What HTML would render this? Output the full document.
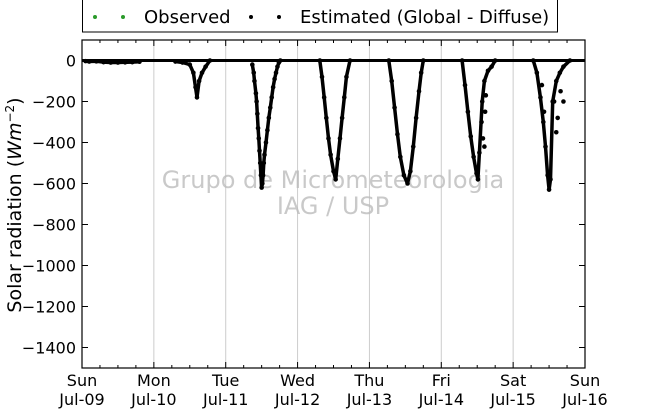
<!DOCTYPE html>
<html><head><meta charset="utf-8"><style>
body{margin:0;background:#fff;font-family:"Liberation Sans","DejaVu Sans",sans-serif}
svg text{font-family:"DejaVu Sans","Liberation Sans",sans-serif}
</style></head><body>
<svg id="c" width="650" height="409" viewBox="0 0 650 409">
<rect x="0" y="0" width="650" height="409" fill="#fff"/>
<g id="grid"></g>
<text x="333" y="188" font-size="24" fill="#bbb" fill-opacity="0.8" text-anchor="middle">Grupo de Micrometeorologia</text>
<text x="333" y="214" font-size="24" fill="#bbb" fill-opacity="0.8" text-anchor="middle">IAG / USP</text>
<g id="series"></g>
<rect x="82" y="40" width="503" height="328" fill="none" stroke="#000" stroke-width="1.2"/>
<g id="axes"></g>
<g>
<rect x="82.5" y="-5" width="475" height="37" fill="#fff" stroke="#000" stroke-width="1"/>
<circle cx="95" cy="17" r="2" fill="#2a9a2a"/>
<circle cx="123" cy="17" r="2" fill="#2a9a2a"/>
<text x="144" y="23" font-size="18">Observed</text>
<circle cx="251" cy="17" r="2" fill="#000"/>
<circle cx="279" cy="17" r="2" fill="#000"/>
<text x="300" y="23" font-size="18">Estimated (Global - Diffuse)</text>
</g>
<text transform="translate(21,205) rotate(-90)" font-size="19" text-anchor="middle">Solar radiation (<tspan font-style="italic">Wm</tspan><tspan font-size="12" dy="-7">−2</tspan><tspan dy="7">)</tspan></text>
</svg>
<script>
const dayLabels=["Sun","Mon","Tue","Wed","Thu","Fri","Sat","Sun"];
const dateLabels=["Jul-09","Jul-10","Jul-11","Jul-12","Jul-13","Jul-14","Jul-15","Jul-16"];
const yTicks=[0,-200,-400,-600,-800,-1000,-1200,-1400];
// estimated series: time in days since Sun Jul-09 00:00, value W/m2 (null separates segments)
const estTimes=[0.05,0.1,0.2,0.3,0.4,0.5,0.6,0.7,0.8,null,
1.30,1.40,1.50,1.55,1.58,1.60,1.63,1.67,1.72,1.78,null,
2.37,2.39,2.40,2.42,2.43,2.44,2.45,2.46,2.47,2.48,2.49,2.50,2.51,2.52,2.53,2.54,2.56,2.58,2.60,2.62,2.64,2.66,2.68,2.70,2.72,2.74,2.76,null,
3.31,3.34,3.37,3.40,3.43,3.46,3.50,3.53,3.56,3.59,3.62,3.65,3.68,3.73,null,
4.27,4.31,4.35,4.39,4.43,4.48,4.53,4.57,4.61,4.65,4.69,4.72,4.75,null,
5.29,5.33,5.37,5.41,5.45,5.49,5.51,5.53,5.57,5.60,5.65,5.70,5.75,null,
6.28,6.33,6.38,6.42,6.45,6.48,6.50,6.52,6.55,6.60,6.65,6.70,6.79];
const estValues=[-3,-5,-4,-8,-10,-10,-9,-8,-6,null,
-5,-10,-20,-60,-130,-180,-100,-60,-30,0,null,
-20,-60,-100,-160,-200,-260,-330,-380,-440,-500,-560,-620,-600,-560,-500,-460,-400,-340,-280,-230,-180,-130,-90,-60,-30,-10,0,null,
0,-80,-180,-280,-380,-460,-540,-580,-480,-380,-280,-180,-80,0,null,
0,-100,-230,-360,-470,-560,-600,-540,-420,-280,-150,-60,0,null,
0,-120,-250,-370,-470,-550,-580,-450,-200,-100,-50,-30,0,null,
0,-60,-180,-300,-420,-560,-630,-580,-200,-100,-60,-30,0];
const scatterTimes=[5.56,5.58,5.60,5.61,5.62,6.40,6.43,6.57,6.60,6.62,6.66,6.70];
const scatterValues=[-300,-380,-420,-250,-170,-120,-250,-200,-350,-280,-150,-200];

const NS="http://www.w3.org/2000/svg";
const X0=82,X1=585,Y0=40,Y1=368,VMAX=100,VMIN=-1500;
const x=t=>X0+t*(X1-X0)/7;
const y=v=>Y0+(VMAX-v)*(Y1-Y0)/(VMAX-VMIN);
function mk(tag,attrs,parent){const e=document.createElementNS(NS,tag);for(const k in attrs)e.setAttribute(k,attrs[k]);parent.appendChild(e);return e;}
const grid=document.getElementById('grid'),axes=document.getElementById('axes'),series=document.getElementById('series');
for(let i=0;i<dayLabels.length;i++){
  const gx=x(i);
  if(i>0&&i<7){const l=mk('line',{x1:gx,x2:gx,y1:Y0,y2:Y1,stroke:'#ccc','stroke-width':1},grid);
  
  }
  const t=mk('text',{x:gx,y:386,'font-size':16,'text-anchor':'middle'},axes);
  t.textContent=dayLabels[i];
  
  
  const t2=mk('text',{x:gx,y:405,'font-size':16,'text-anchor':'middle'},axes);
  t2.textContent=dateLabels[i];
  
  
}
for(let h=0;h<=28;h++){const gx=x(h/4);const len=h%4?3:6;
  mk('line',{x1:gx,x2:gx,y1:Y0,y2:Y0+len,stroke:'#000','stroke-width':1},axes);
  mk('line',{x1:gx,x2:gx,y1:Y1,y2:Y1-len,stroke:'#000','stroke-width':1},axes);}
yTicks.forEach(v=>{const gy=y(v);
  mk('line',{x1:X0,x2:X0+6,y1:gy,y2:gy,stroke:'#000'},axes);
  mk('line',{x1:X1,x2:X1-6,y1:gy,y2:gy,stroke:'#000'},axes);
  const t=mk('text',{x:76,y:gy+6,'font-size':16,'text-anchor':'end'},axes);
  t.textContent=v===0?'0':'\u2212'+Math.abs(v);
  
  });
const zl=mk('line',{x1:X0,x2:X1,y1:y(0),y2:y(0),stroke:'#000','stroke-width':3},series);


let pts=[];
function flush(){if(pts.length){const p=mk('polyline',{points:pts.join(' '),fill:'none',stroke:'#000','stroke-width':3.5,'stroke-linejoin':'round','stroke-linecap':'round'},series);

}pts=[];}
for(let i=0;i<estTimes.length;i++){
  if(estTimes[i]===null){flush();continue;}
  pts.push(x(estTimes[i]).toFixed(1)+','+y(estValues[i]).toFixed(1));
  const c=mk('circle',{cx:x(estTimes[i]),cy:y(estValues[i]),r:2.3,fill:'#000'},series);
  
  
}
flush();
for(let i=0;i<scatterTimes.length;i++){
  const c=mk('circle',{cx:x(scatterTimes[i]),cy:y(scatterValues[i]),r:2.3,fill:'#000'},series);
  
  
}
</script>
</body></html>
